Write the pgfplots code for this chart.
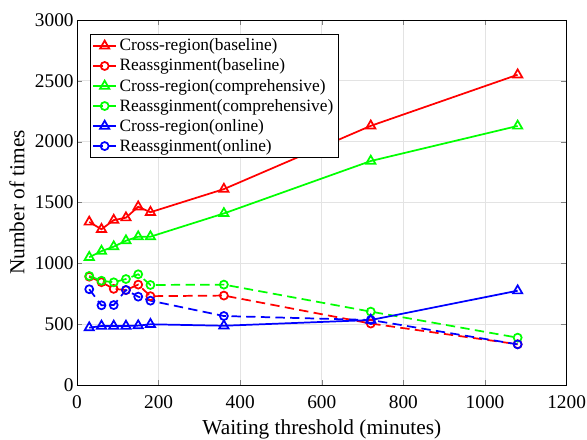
\documentclass[border=0pt]{standalone}
\usepackage{fontspec}
\setmainfont{Liberation Serif}
\usepackage{pgfplots}
\pgfplotsset{compat=1.18}

\begin{document}
\begin{tikzpicture}
\begin{axis}[
    scale only axis,
    width=367.2pt, height=273.75pt,
    xmin=0, xmax=1200, ymin=0, ymax=3000,
    xtick={0,200,...,1200}, ytick={0,500,...,3000},
    xlabel={Waiting threshold (minutes)},
    ylabel={Number of times},
    xticklabel={\pgfmathprintnumber[assume math mode=true,1000 sep={}]{\tick}},
    yticklabel={\pgfmathprintnumber[assume math mode=true,1000 sep={}]{\tick}},
    tick label style={font=\fontsize{14.5}{16}\selectfont},
    xticklabel style={yshift=-4.5pt},
    yticklabel style={xshift=1pt},
    label style={font=\fontsize{16}{18}\selectfont},
    xlabel style={yshift=-1pt},
    ylabel style={yshift=1pt},
    tick align=inside,
    tick pos=both,
    major tick length=4pt,
    grid=major,
    grid style={draw=gray!22, line width=0.6pt},
    axis line style={line width=0.6pt},
    legend style={at={(0.0266,0.962)}, anchor=north west, draw=black,
        line width=0.6pt, font=\fontsize{13}{14}\selectfont,
        inner sep=1.5pt, row sep=0.5pt},
    legend cell align=left,
    every axis plot/.append style={line width=1.3pt,
        mark options={solid, fill=none}},
    cr/.style={mark=triangle, mark size=4pt},
    ra/.style={mark=o, mark size=3pt, dash pattern=on 7pt off 4pt},
]
\addplot[red, cr] coordinates {
(30,1340) (60,1280) (90,1355) (120,1375) (150,1465) (180,1420) (360,1610) (720,2130) (1080,2550)};
\addlegendentry{Cross-region(baseline)}
\addplot[red, ra] coordinates {
(30,890) (60,845) (90,790) (120,780) (150,825) (180,730) (360,735) (720,505) (1080,335)};
\addlegendentry{Reassginment(baseline)}
\addplot[green, cr] coordinates {
(30,1050) (60,1100) (90,1137) (120,1186) (150,1219) (180,1219) (360,1410) (720,1841) (1080,2129)};
\addlegendentry{Cross-region(comprehensive)}
\addplot[green, ra] coordinates {
(30,896) (60,857) (90,844) (120,871) (150,910) (180,822) (360,825) (720,603) (1080,389)};
\addlegendentry{Reassginment(comprehensive)}
\addplot[blue, cr] coordinates {
(30,471) (60,485) (90,485) (120,485) (150,488) (180,499) (360,487) (720,534) (1080,775)};
\addlegendentry{Cross-region(online)}
\addplot[blue, ra] coordinates {
(30,787) (60,655) (90,657) (120,781) (150,726) (180,693) (360,567) (720,534) (1080,334)};
\addlegendentry{Reassginment(online)}
\end{axis}
\pgfresetboundingbox
\path[use as bounding box] ([xshift=-57.75pt,yshift=-41.25pt]current axis.south west)
    rectangle ([xshift=15.3pt,yshift=15pt]current axis.north east);
\end{tikzpicture}
\end{document}
